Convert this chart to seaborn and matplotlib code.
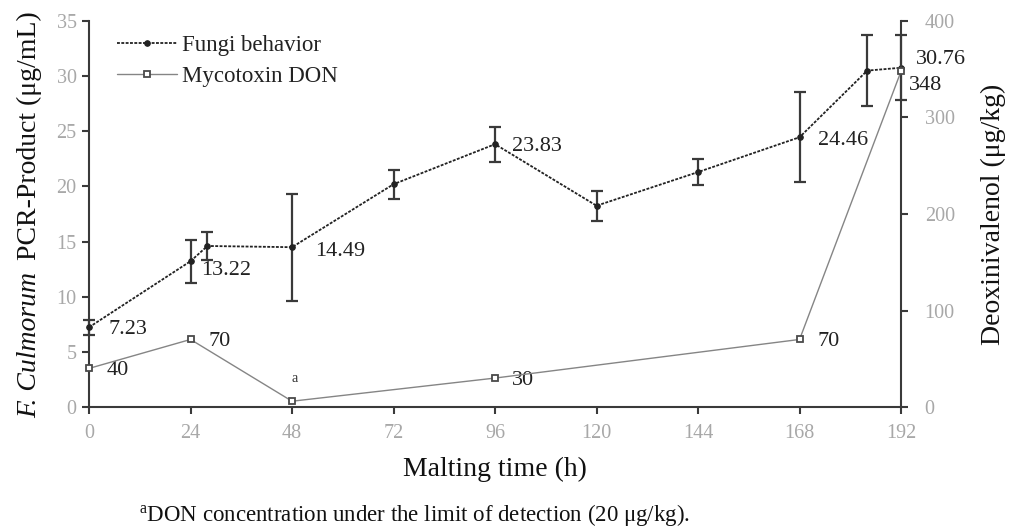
import matplotlib
matplotlib.use("Agg")
import matplotlib.pyplot as plt
import seaborn as sns
import numpy as np
import pandas as pd

# ---------------- data ----------------
fungi_hours = [0, 24, 28, 48, 72, 96, 120, 144, 168, 184, 192]
fungi_pcr = [7.23, 13.22, 14.6, 14.49, 20.2, 23.83, 18.25, 21.3, 24.46, 30.5, 30.76]
fungi_err = [0.7, 1.95, 1.3, 4.85, 1.3, 1.6, 1.35, 1.15, 4.1, 3.25, 2.95]
fungi_labels = ["7.23", "13.22", "", "14.49", "", "23.83", "", "", "24.46", "", "30.76"]

don_hours = [0, 24, 48, 96, 168, 192]
don_values = [40, 70, 6, 30, 70, 348]
don_labels = ["40", "70", "a", "30", "70", "348"]

x_ticks = [0, 24, 48, 72, 96, 120, 144, 168, 192]
left_ticks = [0, 5, 10, 15, 20, 25, 30, 35]
right_ticks = [0, 100, 200, 300, 400]

# ---------------- style ----------------
sns.set_theme(style="white")
plt.rcParams["font.family"] = ["Liberation Serif", "DejaVu Serif"]
plt.rcParams["mathtext.fontset"] = "custom"
plt.rcParams["mathtext.rm"] = "Liberation Serif"
plt.rcParams["mathtext.it"] = "Liberation Serif:italic"

spine_c = "#3a3a3a"
tick_c = "#a8a8a8"
line_c = "#222222"
don_c = "#858585"

W, H = 1013, 531
fig = plt.figure(figsize=(W / 100, H / 100), dpi=100)
ax = fig.add_axes([0.0879, 0.2335, 0.8016, 0.727])
ax2 = ax.twinx()

fungi_df = pd.DataFrame({"hours": fungi_hours, "pcr": fungi_pcr})
don_df = pd.DataFrame({"hours": don_hours, "don": don_values})

# error bars
eb = ax.errorbar(fungi_hours, fungi_pcr, yerr=fungi_err, fmt="none",
                 ecolor=spine_c, elinewidth=1.6, capsize=4, capthick=1.6, zorder=3)
for child in eb.get_children():
    child.set_clip_on(False)

sns.lineplot(data=fungi_df, x="hours", y="pcr", ax=ax, color=line_c,
             linestyle=(0, (1.6, 0.8)), linewidth=1.3, marker="o", markersize=4,
             markeredgecolor=line_c, markerfacecolor=line_c,
             errorbar=None, clip_on=False, zorder=4, label="Fungi behavior")

sns.lineplot(data=don_df, x="hours", y="don", ax=ax2, color=don_c,
             linestyle="-", linewidth=1.0, marker="s", markersize=5,
             markerfacecolor="white", markeredgecolor="#4a4a4a", markeredgewidth=1.3,
             errorbar=None, clip_on=False, zorder=4, label="Mycotoxin DON")

# axes limits / ticks
ax.set_xlim(0, 192)
ax.set_ylim(0, 35)
ax2.set_ylim(0, 400)
ax.set_xticks(x_ticks)
ax.set_yticks(left_ticks)
ax2.set_yticks(right_ticks)

for a in (ax, ax2):
    for s in a.spines.values():
        s.set_color(spine_c)
        s.set_linewidth(1.5)
    a.spines["top"].set_visible(False)
ax.spines["right"].set_visible(False)
ax2.spines["left"].set_visible(False)
ax2.spines["bottom"].set_visible(False)

ax.tick_params(axis="both", direction="out", length=5, width=1.5, color=spine_c,
               labelsize=14.5, labelcolor=tick_c, pad=4)
ax.tick_params(axis="x", pad=7)
ax2.tick_params(axis="y", direction="out", length=5, width=1.5, color=spine_c,
                labelsize=14.5, labelcolor=tick_c, pad=12)
ax.tick_params(axis="x", bottom=True)
ax.tick_params(axis="y", left=True)
ax2.tick_params(axis="y", right=True)
ax.grid(False)
ax2.grid(False)

ax.set_xlabel("Malting time (h)", fontsize=20, color="#111111", labelpad=10.5)
ax.set_ylabel("")
ax2.set_ylabel("Deoxinivalenol (μg/kg)", fontsize=20, color="#111111", labelpad=19)

# left y label: italic species name + regular text
ylab_x = 36 / W
ylab_y = (H - 418) / H
t1 = fig.text(ylab_x, ylab_y, "F. Culmorum", fontsize=20, style="italic",
              color="#111111", rotation=90, rotation_mode="anchor",
              ha="left", va="baseline")
fig.canvas.draw()
bb = t1.get_window_extent(fig.canvas.get_renderer())
fig.text(ylab_x, (bb.y1 + 12) / H, "PCR-Product (μg/mL)", fontsize=20,
         color="#111111", rotation=90, rotation_mode="anchor",
         ha="left", va="baseline")

# annotations (fungi)
fungi_off = {0: (19, -2), 1: (11, -9.5), 3: (23, -4), 5: (17, -2.5),
             8: (18, -3), 10: (15, 8.5)}
for i, lab in enumerate(fungi_labels):
    if lab:
        ax.annotate(lab, (fungi_hours[i], fungi_pcr[i]), xytext=fungi_off[i],
                    textcoords="offset pixels", ha="left", va="center",
                    fontsize=16, color="#222222", annotation_clip=False)

don_off = {0: (18, -2), 1: (18, -2), 2: (3, 23), 3: (17, -2), 4: (18, -2), 5: (8, -14)}
for i, lab in enumerate(don_labels):
    if lab == "a":
        ax2.annotate(lab, (don_hours[i], don_values[i]), xytext=don_off[i],
                     textcoords="offset pixels", ha="center", va="center",
                     fontsize=10, color="#333333", annotation_clip=False)
    else:
        ax2.annotate(lab, (don_hours[i], don_values[i]), xytext=don_off[i],
                     textcoords="offset pixels", ha="left", va="center",
                     fontsize=16, color="#222222", annotation_clip=False)

# legend
h1, l1 = ax.get_legend_handles_labels()
h2, l2 = ax2.get_legend_handles_labels()
if ax.get_legend():
    ax.get_legend().remove()
if ax2.get_legend():
    ax2.get_legend().remove()
leg = ax2.legend(h1 + h2, l1 + l2, loc="upper left", bbox_to_anchor=(0.018, 1.0),
                 frameon=False, fontsize=16.5, handlelength=2.6, handletextpad=0.2,
                 labelspacing=0.45, borderaxespad=0.2)
for t in leg.get_texts():
    t.set_color("#222222")

# footnote
fig.text(0.137, 0.031, r"$^{\mathrm{a}}$DON concentration under the limit of detection (20 μg/kg).",
         fontsize=16.5, color="#111111", ha="left", va="center")

fig.savefig("out.png", dpi=100, facecolor="white")
